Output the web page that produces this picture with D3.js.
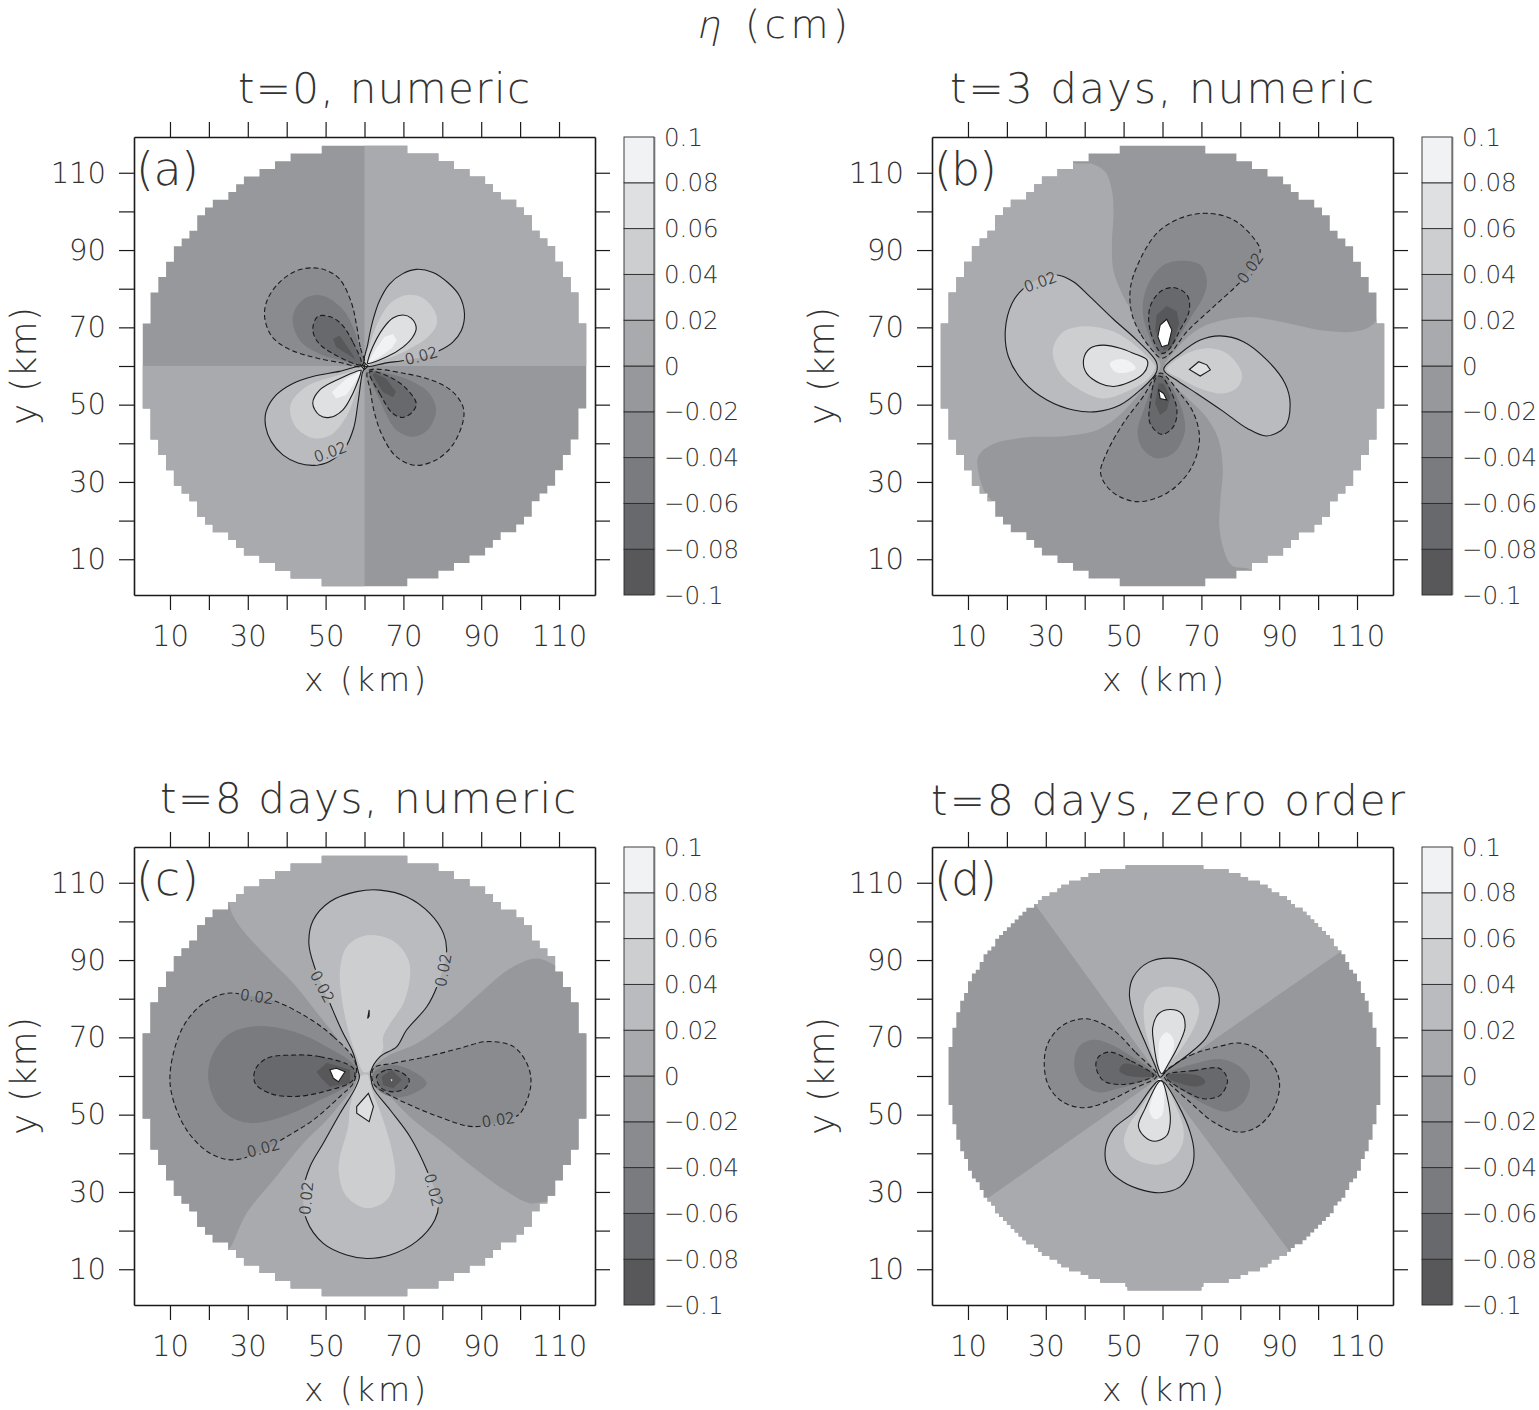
<!DOCTYPE html>
<html><head><meta charset="utf-8"><title>eta</title>
<script src="https://cdnjs.cloudflare.com/ajax/libs/d3/7.8.5/d3.min.js"></script>
<style>html,body{margin:0;background:#fff}svg{display:block}
text{font-family:"DejaVu Sans",sans-serif;font-weight:200;fill:#333;text-rendering:geometricPrecision}</style></head><body>
<script>
const levels=[-0.1,-0.08,-0.06,-0.04,-0.02,0,0.02,0.04,0.06,0.08,0.1];
const levelLabels=["\u22120.1","\u22120.08","\u22120.06","\u22120.04","\u22120.02","0","0.02","0.04","0.06","0.08","0.1"];
const grays=["#ffffff","#58585a","#68696c","#7a7b7e","#8a8b8e","#97989b","#a8aaad","#b9bbbe","#cdced0","#dfe0e2","#f1f2f3","#ffffff"];
const axisTicks=[10,20,30,40,50,60,70,80,90,100,110];
const labelledTicks=[10,30,50,70,90,110];
const titles=["t=0, numeric","t=3 days, numeric","t=8 days, numeric","t=8 days, zero order"];
const letters=["(a)","(b)","(c)","(d)"];
// half-width of the model domain per row, km, from the middle row outward
const coarseRows=[57,57,57,57,57,57,55,55,55,55,53,53,51,51,49,49,47,45,43,43,41,39,35,33,31,27,23,19,11];
const fineRows=[55.5,55.5,55.5,55.5,55.5,55.5,55.5,55.5,54.5,54.5,54.5,54.5,54.5,53.5,53.5,53.5,53.5,52.5,52.5,52.5,51.5,51.5,50.5,50.5,50.5,49.5,49.5,48.5,47.5,47.5,46.5,46.5,45.5,44.5,43.5,43.5,42.5,41.5,40.5,39.5,38.5,37.5,36.5,35.5,33.5,32.5,31.5,29.5,27.5,26.5,24.5,21.5,19.5,16.5,10,9.5];
// contour regions: [level, line style, outline shape, km offsets from the pattern centre]
const panelA=[
[0,"none","linear",[[0,0],[70,0],[70,70],[0,70]]],
[0,"none","linear",[[0,0],[-70,0],[-70,-70],[0,-70]]],
[0.02,"solid","round",[[0,0],[.86,5.74],[2.14,11.74],[3.86,16.9],[6.43,21.2],[9.85,23.9],[13.3,25],[17.6,24.2],[21.4,21.6],[24.4,18.2],[25.7,13.5],[24.9,9.2],[22.7,6.2],[19.3,4],[15,2.3],[10.7,1.5],[5.6,.8]]],
[0.04,"none","round",[[0,0],[1.7,6.6],[3.9,12.2],[6.9,16.5],[11.1,18.4],[15,17.6],[18,14.3],[18.6,10.9],[16.3,7.5],[12.4,4.9],[8.1,2.7],[2.1,.8]]],
[0.06,"solid","round",[[.9,1.5],[2.1,4.9],[4.7,9.6],[7.3,12.4],[9.9,13.2],[12,12.4],[13.3,9.9],[12.4,7.5],[9.9,4.9],[5.6,2.3],[.8,.7]]],
[0.08,"none","linear",[[.9,1],[3,4.5],[5.1,7.5],[7.3,8.3],[8.3,6.6],[6.9,4.5],[3.9,2.3],[1,.7]]],
[0.02,"solid","round",[[0,0],[-6.4,-1.4],[-13.3,-2.7],[-18.4,-4.5],[-22.7,-7.5],[-25.3,-11.8],[-25.4,-15.7],[-24,-19.5],[-21,-23],[-17.1,-25.1],[-12.9,-25.7],[-9,-24.7],[-5.1,-21.3],[-2.8,-16.1],[-1.7,-9.7],[-.6,-2]]],
[0.04,"none","round",[[-.9,-1.1],[-8.1,-2.8],[-15,-5.4],[-18.9,-9.7],[-18.9,-13.1],[-17.1,-16.4],[-12.9,-18.7],[-8.6,-17.8],[-4.7,-13.1],[-2.6,-8],[-.6,-1.3]]],
[0.06,"solid","round",[[-.9,-1.1],[-6.4,-3.3],[-11.6,-6.3],[-13.3,-9.7],[-11.6,-12.7],[-9,-13.3],[-5.6,-11.4],[-3,-7.1],[-.9,-1.5]]],
[0.08,"none","linear",[[-.9,-1.3],[-4.7,-3.3],[-8.4,-6.7],[-7.3,-8.4],[-4.7,-7.5],[-2.6,-4.5],[-.9,-1.5]]],
[-0.02,"dashed","round",[[0,0],[-1.1,4.9],[-2.1,10.9],[-3.4,16.5],[-6.4,22.5],[-9.9,24.8],[-13.3,25.4],[-17.6,24.6],[-21.9,21.6],[-24.9,17.3],[-25.7,13],[-24,7.9],[-20.1,4.7],[-13.3,2.3],[-6.4,.9]]],
[-0.04,"none","round",[[0,.5],[-1.1,4],[-2.6,9.2],[-5.6,14.7],[-10.7,18.2],[-15,17.7],[-18,14.3],[-18.4,10.9],[-16.3,6.2],[-11.6,3.2],[-6.4,1.6]]],
[-0.06,"dashed","round",[[-.9,.4],[-3,6.2],[-6,10.9],[-9,12.8],[-12,12.8],[-13.3,9.6],[-12,6.2],[-8.1,3.2]]],
[-0.08,"none","linear",[[-2.6,2.3],[-6.4,7.9],[-8.1,7],[-7.3,4.9],[-2.6,1.9]]],
[-0.02,"dashed","round",[[.9,-1.3],[1.5,-6.3],[2.6,-12.3],[4.7,-18.3],[8.1,-23.4],[12.9,-25.7],[18.4,-24.3],[22.7,-20.4],[25.4,-14],[25.3,-10.5],[22.7,-6.7],[18.4,-4.1],[10.7,-2]]],
[-0.04,"none","round",[[1.3,-1.5],[3.9,-8.8],[8.1,-16.5],[12.4,-18.3],[16.3,-16.5],[18.4,-11.4],[16.7,-7.1],[12.4,-4.1],[6.4,-2]]],
[-0.06,"dashed","round",[[1.3,-1.5],[3.9,-7.1],[7.3,-12.3],[9.9,-13.3],[12.4,-11.8],[13.3,-9.7],[10.7,-5.8],[6.4,-2.8]]],
[-0.08,"none","linear",[[2.1,-2.4],[4.7,-6.7],[7.3,-8.1],[8.1,-6.7],[5.6,-3.3],[2.6,-1.8]]],
[0.1,"solid","linear",[[0,.9],[.9,0],[0,-.9],[-.9,0]]]
];
const panelALabels=[[14.6,2.6,-15],[-8.8,-22.3,-20]];
const panelB=[
[0,"none","round",[[-30,70],[-30,60],[-23.3,52.8],[-18.1,52.3],[-14.7,50.2],[-13,45.4],[-12.6,39.4],[-13,31.6],[-12.6,24.7],[-10.4,18.7],[-6.1,10.9],[-2.7,4],[-.5,0],[-4.4,-5.2],[-10.4,-12.1],[-16.4,-16.4],[-25,-18.1],[-35.3,-18.5],[-43.8,-20.3],[-47.3,-23.3],[-47.3,-27.6],[-45.6,-32.8],[-43.4,-36.2],[-55,-45],[-75,-36],[-75,60]]],
[0,"none","round",[[.5,0],[3.3,4],[7.6,8.4],[12.7,11.1],[22.2,12.7],[30.7,11.4],[41.9,9.1],[50.5,9.1],[54.7,11.4],[55.6,16.1],[56,18.7],[70,22],[72,-70],[30,-70],[23,-53],[17.9,-51.7],[15.7,-47.4],[14.6,-41.4],[14.9,-34.5],[15.5,-26.7],[14.4,-19],[11,-12.9],[5.9,-7.8],[1.6,-3.4]]],
[0.02,"solid","round",[[-1.6,1.1],[-6.6,6.7],[-12.6,12.1],[-18.6,17.9],[-22.9,21.8],[-26.7,23.5],[-31.4,22.7],[-35.7,20.1],[-38.7,16.2],[-40.4,9.3],[-39.6,2.4],[-35.7,-4.1],[-29.7,-8.8],[-22.9,-11.4],[-16.9,-11.8],[-10.9,-10.1],[-5.7,-6.2],[-1.6,-1.7]]],
[0.04,"none","round",[[-1.9,0],[-6.6,5],[-12.6,8.9],[-19.5,10.3],[-25.4,8.9],[-28.2,4.1],[-26.3,-1.9],[-21.2,-6.2],[-15.2,-8.4],[-9.2,-6.6],[-4,-3.6],[-1.9,-.6]]],
[0.06,"solid","round",[[-4,1.6],[-7.5,3.3],[-10.9,4.6],[-15.2,5.4],[-18.6,4.6],[-20.3,1.6],[-19.5,-1.9],[-16,-4.5],[-12.6,-5.3],[-8.3,-4.1],[-4.9,-1.9],[-3.8,.3]]],
[0.08,"none","round",[[-13.5,.7],[-10.9,1.8],[-8.3,1.1],[-6.9,-.6],[-9.2,-1.7],[-12.2,-1.5]]],
[0.02,"solid","round",[[.3,-.9],[4.6,3.3],[9.7,6.7],[14.8,7.8],[20.8,6.3],[26.8,1.6],[31.5,-4.5],[32.8,-9.7],[31.5,-15.7],[26.8,-18.1],[21.7,-16.1],[15.7,-11.8],[8.8,-7.1],[4.1,-4]]],
[0.04,"none","round",[[1.1,-.9],[5.4,2.8],[11.4,4.6],[16.5,3.3],[20.4,-1.9],[19.5,-5.3],[15.7,-7.1],[9.7,-5.8],[4.5,-3.2]]],
[0.06,"solid","linear",[[6.9,-.9],[9.3,1.1],[11.4,.3],[12.3,-1],[9.7,-2.6]]],
[-0.02,"dashed","round",[[-2.3,3.7],[-5.7,8.4],[-7.9,13.6],[-8.3,19.7],[-6.6,25.7],[-1.5,34.3],[4.5,38.2],[11.4,39.5],[18.3,37.8],[23.8,32.6],[25.1,29.6],[20.8,22.7],[13.1,15.3],[6.3,8.9],[2,3.3],[-.2,2]]],
[-0.04,"none","round",[[-.6,2.8],[-4,9.3],[-5.1,14.5],[-4,20.5],[.3,26.1],[5.4,27.2],[9.7,26.1],[11.4,22.2],[10.5,17.9],[7.1,12.3],[2.4,5]]],
[-0.06,"dashed","round",[[-.2,3.3],[-3.2,9.3],[-3.2,15.3],[-.6,19.2],[2.8,20.3],[6.3,18.4],[6.9,14.5],[4.5,9.3],[1.5,4.1]]],
[-0.08,"none","linear",[[.3,4.1],[-1.9,9.3],[-1.5,13.2],[1.1,15.5],[3.7,14.1],[4.3,11],[2.4,5]]],
[-0.1,"solid","linear",[[1.1,12.1],[2.4,9.3],[1.5,5.5],[-.2,5],[-1.2,7.6],[-.6,10.6]]],
[-0.02,"dashed","round",[[-1.5,-2.3],[-4.9,-7.8],[-10,-14.7],[-14.3,-22.4],[-15.9,-27.8],[-13,-32.5],[-6.6,-35.1],[1.1,-32.9],[7.1,-26.9],[9.5,-19.1],[8,-12.2],[4.5,-7.1],[-.2,-1.9]]],
[-0.04,"none","round",[[-1,-2.3],[-4.5,-10.5],[-6.4,-17.4],[-4.9,-21.7],[-1.5,-23.9],[2.8,-22.6],[5.4,-18.3],[5.8,-14.8],[3.7,-7.9],[.1,-2.3]]],
[-0.06,"dashed","round",[[-1.5,-2.8],[-3.2,-9.7],[-3.2,-14.8],[-.2,-17.7],[2.8,-15.7],[3.7,-11.4],[2,-6.2],[-.2,-2.8]]],
[-0.08,"none","linear",[[-1,-4.5],[-1.9,-9.7],[-.6,-12.7],[1.1,-11.4],[2,-7.9],[.3,-4.5]]],
[-0.1,"solid","linear",[[-1,-6.2],[.3,-7.1],[1.1,-8.8],[-.6,-8.4]]]
];
const panelBLabels=[[-31.4,21.7,-20],[22.6,25.3,-55]];
const panelC=[
[0,"none","linear",[[-80,-80],[80,-80],[80,80],[-80,80]]],
[-0.001,"none","round",[[-1.2,.7],[-5.4,7.6],[-11.4,15.3],[-18.3,24],[-25.1,30.9],[-32,38.6],[-34.1,42.1],[-35,45.1],[-40,55],[-75,55],[-75,-60],[-40,-55],[-35,-45],[-34.1,-43.7],[-30.3,-35.5],[-23.4,-26.9],[-15.7,-17.4],[-9.7,-11.4],[-4.6,-5.3],[-1.2,-1]]],
[-0.001,"none","round",[[1.4,1.1],[5.7,5],[13.4,8.4],[22,14.5],[29.7,21.4],[37.4,27.8],[44.3,30.4],[49.4,28.3],[53.7,24.8],[70,25],[70,-35],[47.7,-32.5],[42.5,-32.9],[36.6,-29.9],[28.8,-24.3],[20.3,-17.4],[12.6,-11.4],[5.7,-4.5],[1.8,-1]]],
[0.02,"solid","round",[[-1.6,1.1],[-2.9,5.9],[-5.9,11.9],[-8.9,18.8],[-12.7,27.8],[-14.3,34.3],[-13.2,40.3],[-8.9,45.1],[-2,47.7],[4,48.1],[10.8,46.4],[16.8,42.1],[20.3,36.9],[21.1,32.2],[18.6,23.1],[16,17.9],[10.8,11.9],[8.3,7.6],[4,5],[1.6,1.1],[1.6,-.2],[2.3,-3.2],[6.6,-8.8],[11.7,-15.7],[16,-24.3],[19,-32.9],[18.1,-37.2],[13.4,-42.8],[6.6,-46.3],[.6,-47.2],[-4.6,-46.3],[-10.6,-43.3],[-14.9,-37.2],[-15.7,-29.5],[-14,-23.4],[-10.6,-17.4],[-6.3,-9.7],[-2.4,-3.2],[-1.3,-.2]]],
[0.04,"none","round",[[-.3,1.1],[-2,5],[-4.2,11.9],[-5.9,20.5],[-6.3,27.4],[-4.6,33.4],[-.3,36.2],[4,36.2],[8.3,34.3],[11.3,30],[11.7,25.7],[10,18.8],[6.6,13.6],[4.8,10.2],[4.7,6.7],[1,1.1]]],
[0.04,"none","round",[[-1.2,-.2],[-3.7,-7.9],[-4.2,-13.1],[-6.3,-20.9],[-6.6,-25.2],[-4.6,-31.2],[.6,-34.2],[5.7,-32.1],[7.8,-26.9],[7.4,-20.9],[4.8,-11.4],[1.9,-3.6],[.7,.3]]],
[0.06,"solid","linear",[[1,-4.5],[-2,-7.9],[-2,-9.6],[1.2,-11.8],[2.3,-7.9]]],
[0.06,"solid","linear",[[1.2,17.1],[.8,14.9],[1.2,15.5]]],
[-0.02,"dashed","round",[[-2.4,3.7],[-8,10.2],[-14.9,15.3],[-23.4,19.5],[-30.3,20.9],[-35.4,21.4],[-41.4,18.8],[-46.6,12.8],[-49.8,2.4],[-49.6,-4.5],[-45.7,-14],[-39.7,-20],[-33.7,-21.7],[-26.9,-19.6],[-20,-15.7],[-13.2,-11.4],[-6.3,-5.3],[-2.7,-1.5]]],
[-0.04,"none","round",[[-2.4,2.4],[-9.7,7.6],[-18.3,11.5],[-27.7,12.9],[-34.6,11],[-38.9,5.9],[-40.2,-.2],[-38,-7.1],[-33.7,-11],[-28.6,-12.2],[-20.9,-10.5],[-13.2,-7.1],[-5.4,-3.2],[-2.4,-1]]],
[-0.06,"dashed","round",[[-2.9,2],[-11.4,5],[-19.1,5.4],[-25.1,4.6],[-28.1,1.6],[-28.1,-1.9],[-24.3,-4.5],[-18.3,-5.3],[-10.6,-4.1],[-2.9,-1]]],
[-0.08,"none","linear",[[-3.7,1.6],[-9.7,3.4],[-12.3,1.1],[-11.4,-.2],[-8.9,-2.8],[-3.7,-1.9]]],
[-0.1,"solid","linear",[[-8.9,1.6],[-7.2,2],[-5,1.1],[-6.7,-1.5],[-8,-.6]]],
[-0.02,"dashed","round",[[2.3,2],[7.4,3.3],[16,5],[24.6,7.2],[31.4,8.9],[38.3,7.6],[42.1,2.4],[42.7,-2.8],[40,-9.7],[37.4,-11],[28,-13.1],[20.3,-11],[12.6,-7.9],[5.7,-4.5],[2.3,-1.9]]],
[-0.04,"none","round",[[2.3,.7],[5.7,2.8],[10.8,2],[16,-1.9],[11.7,-4.9],[6.6,-5.3],[2.7,-2.8]]],
[-0.06,"dashed","round",[[3.1,-.2],[5.7,1.6],[9.1,1.1],[11.5,-1],[10.4,-3.2],[7.4,-4.1],[4.4,-3.2]]],
[-0.08,"none","linear",[[4.4,-.2],[7,1.6],[9.6,-1],[7.4,-3.2],[4.8,-2.3]]],
[-0.1,"none","linear",[[6.7,-.8],[7.2,-1],[7,-1.4]]]
];
const panelCLabels=[[-10.9,23.1,62],[20.3,27.4,-80],[-27.7,20.5,8],[-26,-18.7,-15],[34.4,-11.4,-8],[-14.9,-31.6,-85],[17.7,-29.5,75]];
const panelD=[
[0,"none","linear",[[0,0],[-41,57],[0,90],[60,42]]],
[0,"none","linear",[[0,0],[42,-57],[0,-90],[-58,-41]]],
[0.02,"solid","round",[[0,0],[-1.3,3],[-3.9,9.1],[-6.4,15.1],[-7.9,21.1],[-6.9,25.9],[-3,29.7],[2.6,30.8],[8.6,29.3],[13.3,25.4],[15.2,20.3],[14.1,15.1],[11.6,9.9],[6.9,5.6],[1.7,1.7]]],
[0.04,"none","round",[[-.9,3],[-3,9.1],[-4.1,14.2],[-3.9,19.4],[-.9,22.8],[3.4,23.3],[8.1,21.6],[10,17.7],[9,13.4],[6,8.2],[2.6,3.9],[.4,.9]]],
[0.06,"solid","round",[[-.4,2.2],[-1.7,9.1],[-1.9,12.9],[-.4,16.4],[2.6,17.5],[5.6,16.4],[6.4,12.9],[5.1,9.1],[2.1,3.4],[.4,.9]]],
[0.08,"none","round",[[0,1.7],[-.4,6.5],[0,9.9],[1.7,11.6],[3.4,9.9],[3.4,7.3],[2.1,3.9],[.4,.9]]],
[0.02,"solid","round",[[-.4,-.9],[-6.9,-9.1],[-12,-13.4],[-14.1,-18.5],[-13.3,-23.7],[-9.4,-27.2],[-4.3,-29.3],[0,-29.9],[5.1,-28.4],[8.1,-23.7],[8.7,-19.4],[7.7,-14.2],[4.7,-7.3],[.9,-1.3]]],
[0.04,"none","round",[[-.4,-1.3],[-5.1,-8.2],[-8.1,-12.5],[-9.3,-16.8],[-7.7,-20.3],[-2.1,-22.6],[2.6,-21.6],[5.6,-17.7],[6,-13.4],[4.3,-8.2],[.9,-1.3]]],
[0.06,"solid","round",[[-.4,-1.3],[-3.9,-8.2],[-5.6,-12.5],[-4.3,-15.1],[-1.3,-16.6],[1.7,-15.1],[2.6,-11.6],[2.1,-6.5],[.4,-.9]]],
[0.08,"none","round",[[-.4,-.4],[-2.1,-5.6],[-2.8,-8.6],[-1.3,-10.9],[.4,-10],[1,-6.5],[.7,-1.3]]],
[-0.02,"dashed","round",[[-.8,.6],[-6.4,6.5],[-12,12.1],[-18.9,15.1],[-24.9,13.5],[-28.7,9.1],[-29.8,3.9],[-28.7,-2.2],[-24.9,-6.5],[-19.3,-7.9],[-12.9,-6],[-6.9,-3],[-1.3,-.3]]],
[-0.04,"none","round",[[-1.7,.9],[-7.7,5.6],[-12.9,8.6],[-17.1,9.7],[-20.6,8.2],[-22.1,3.9],[-20.6,-1.3],[-15.9,-3.9],[-10.3,-2.8],[-5.1,-1.3]]],
[-0.06,"dashed","round",[[-1.7,.4],[-7.7,4.3],[-12.9,6.5],[-15.9,5.2],[-16.5,2.6],[-14.6,-.9],[-10.3,-1.9],[-4.3,-.9]]],
[-0.08,"none","round",[[-.9,.4],[-5.1,2.6],[-9.4,3.4],[-10.5,1.7],[-8.6,.4],[-4.3,0]]],
[-0.02,"dashed","round",[[.9,.9],[7.7,5.6],[14.6,7.8],[20.6,8.8],[25.7,6.9],[29.6,2.2],[30.7,-2.2],[29.1,-8.2],[24.9,-12.9],[19.7,-14.2],[13.7,-11.6],[7.7,-6.5],[1.3,-.4]]],
[-0.04,"none","round",[[1.7,.9],[8.6,3.4],[15.4,4.7],[20.6,2.6],[23.1,-1.3],[21.4,-6.5],[17.1,-8.9],[12,-7.3],[6.9,-4.3],[1.7,-.4]]],
[-0.06,"dashed","round",[[1.7,.6],[8.6,1.7],[15.4,2.2],[17.3,-.9],[15.4,-4.7],[11.1,-5.6],[6.9,-3.9],[1.7,-.3]]],
[-0.08,"none","round",[[1.7,.4],[6.9,.9],[10.7,0],[11.6,-1.3],[9.4,-2.4],[4.3,-1.3],[1.7,0]]]
];
const panelDLabels=[];
const panelRegions=[panelA,panelB,panelC,panelD];
const panelLabels=[panelALabels,panelBLabels,panelCLabels,panelDLabels];
const patternCentres=[[60,60],[60,60],[60,60],[59.4,59.7]];

const W=1539,H=1410;
const svg=d3.select("body").append("svg").attr("width",W).attr("height",H);
const boxes=[{l:134,t:137},{l:932,t:137},{l:134,t:847},{l:932,t:847}];
const titlePos=[[384,103,292],[1162,103,424],[368,813,416],[1168,815,474]];
const PW=461,PH=458;
const bandColour=d3.scaleThreshold().domain(levels).range(grays);
const mid=v=>v>=0?v+0.01:v-0.01;
const curveRound=d3.curveCatmullRomClosed.alpha(0.5);

function thinText(sel,size,len){sel.attr("font-size",size);if(len)sel.attr("textLength",len).attr("lengthAdjust","spacing");return sel;}

svg.append("text").attr("transform","translate(708,38) skewX(-12)").attr("text-anchor","middle").attr("font-size",38).text("\u03b7");
thinText(svg.append("text").attr("x",745).attr("y",38).text("(cm)"),39,103);

boxes.forEach((b,i)=>{
  const g=svg.append("g");
  const x=d3.scaleLinear().domain([0.75,119.25]).range([b.l,b.l+PW]);
  const y=d3.scaleLinear().domain([0.75,119.25]).range([b.t+PH,b.t]);
  const ct=patternCentres[i];
  // model domain: one staircase outline, top row to bottom row
  const fine=i===3, rows=fine?fineRows:coarseRows, step=fine?1:2, cx=fine?60.5:60;
  const ordered=[];
  rows.forEach((hw,k)=>{ if(!(fine&&k===55)) ordered.unshift({yc:60+k*step,hw}); });
  rows.forEach((hw,k)=>{ if(k>0) ordered.push({yc:60-k*step,hw}); });
  const pen=d3.path();
  ordered.forEach((r,j)=>{
    const top=y(r.yc+step/2),bot=y(r.yc-step/2);
    if(j===0)pen.moveTo(x(cx-r.hw),top);else pen.lineTo(x(cx-r.hw),top);
    pen.lineTo(x(cx-r.hw),bot);
  });
  ordered.slice().reverse().forEach(r=>{
    pen.lineTo(x(cx+r.hw),y(r.yc-step/2));
    pen.lineTo(x(cx+r.hw),y(r.yc+step/2));
  });
  pen.closePath();
  g.append("clipPath").attr("id","dom"+i).append("path").attr("d",pen.toString());
  const field=g.append("g").attr("clip-path",`url(#dom${i})`);
  field.append("rect").attr("x",b.l).attr("y",b.t).attr("width",PW).attr("height",PH)
    .attr("fill",bandColour(-0.01));
  const line=d3.line().x(p=>x(ct[0]+p[0])).y(p=>y(ct[1]+p[1]));
  const shape=(r)=>line.curve(r[2]==="round"?curveRound:d3.curveLinearClosed)(r[3]);
  const regs=panelRegions[i];
  field.selectAll("path.f").data(regs).join("path").attr("class","f")
    .attr("d",shape).attr("fill",r=>bandColour(r[0]===-0.001?-0.01:mid(r[0])));
  // contour lines, broken where a label sits
  const mask=g.append("mask").attr("id","gap"+i).attr("maskUnits","userSpaceOnUse")
    .attr("x",b.l).attr("y",b.t).attr("width",PW).attr("height",PH);
  mask.append("rect").attr("x",b.l).attr("y",b.t).attr("width",PW).attr("height",PH).attr("fill","#fff");
  panelLabels[i].forEach(l=>{
    mask.append("rect").attr("x",-18).attr("y",-7).attr("width",36).attr("height",14).attr("fill","#000")
      .attr("transform",`translate(${x(ct[0]+l[0])},${y(ct[1]+l[1])}) rotate(${l[2]})`);
  });
  const lines=g.append("g").attr("mask",`url(#gap${i})`).attr("fill","none").attr("stroke","#1c1c1c");
  lines.selectAll("path").data(regs.filter(r=>r[1]!=="none")).join("path")
    .attr("d",shape).attr("stroke-width",1.1)
    .attr("stroke-dasharray",r=>r[1]==="dashed"?"5 3":null);
  panelLabels[i].forEach(l=>{
    g.append("text").attr("text-anchor","middle").attr("dominant-baseline","central").attr("font-size",15)
      .style("fill","#222").style("stroke","#333").style("stroke-width",0.25)
      .attr("transform",`translate(${x(ct[0]+l[0])},${y(ct[1]+l[1])}) rotate(${l[2]})`).text("0.02");
  });
  // axes
  const fmt=d=>labelledTicks.includes(d)?d:"";
  const style=(a)=>{a.selectAll("path").attr("stroke","#1a1a1a").attr("stroke-width",1.6);
    a.selectAll("line").attr("stroke","#1a1a1a").attr("stroke-width",1.2);
    a.selectAll("text").attr("font-size",29).style("font-family",'"DejaVu Sans"').style("font-weight",200).style("fill","#333");};
  style(g.append("g").attr("transform",`translate(0,${b.t+PH})`).call(d3.axisBottom(x).tickValues(axisTicks).tickSize(15).tickSizeOuter(0).tickPadding(15).tickFormat(fmt)));
  style(g.append("g").attr("transform",`translate(0,${b.t})`).call(d3.axisTop(x).tickValues(axisTicks).tickSize(15).tickSizeOuter(0).tickFormat("")));
  style(g.append("g").attr("transform",`translate(${b.l},0)`).call(d3.axisLeft(y).tickValues(axisTicks).tickSize(15).tickSizeOuter(0).tickPadding(13).tickFormat(fmt)));
  style(g.append("g").attr("transform",`translate(${b.l+PW},0)`).call(d3.axisRight(y).tickValues(axisTicks).tickSize(15).tickSizeOuter(0).tickFormat("")));
  // texts
  const tp=titlePos[i];
  thinText(g.append("text").attr("x",tp[0]).attr("y",tp[1]).attr("text-anchor","middle").text(titles[i]),42,tp[2]);
  thinText(g.append("text").attr("x",b.l+2).attr("y",b.t+48).text(letters[i]),46,63);
  thinText(g.append("text").attr("x",b.l+231).attr("y",b.t+554).attr("text-anchor","middle").text("x (km)"),33,122);
  thinText(g.append("text").attr("transform",`translate(${b.l-98},${b.t+229}) rotate(-90)`).attr("text-anchor","middle").text("y (km)"),36,118);
  // colour bar
  const cbx=b.l+490,cbw=30;
  const cby=d3.scaleLinear().domain([-0.1,0.1]).range([b.t+PH,b.t]);
  const cb=g.append("g");
  cb.append("rect").attr("x",cbx+cbw).attr("y",b.t).attr("width",1.5).attr("height",PH).attr("fill","#aaa");
  cb.selectAll("rect.c").data(d3.pairs(levels)).join("rect").attr("class","c")
    .attr("x",cbx).attr("width",cbw).attr("y",d=>cby(d[1])).attr("height",d=>cby(d[0])-cby(d[1]))
    .attr("fill",d=>bandColour((d[0]+d[1])/2)).attr("stroke","#2b2b2b").attr("stroke-width",.9);
  cb.selectAll("text").data(levels).join("text").attr("x",cbx+40).attr("y",d=>cby(d))
    .attr("dominant-baseline","central").attr("font-size",24.5).text((d,j)=>levelLabels[j]);
});
</script></body></html>
